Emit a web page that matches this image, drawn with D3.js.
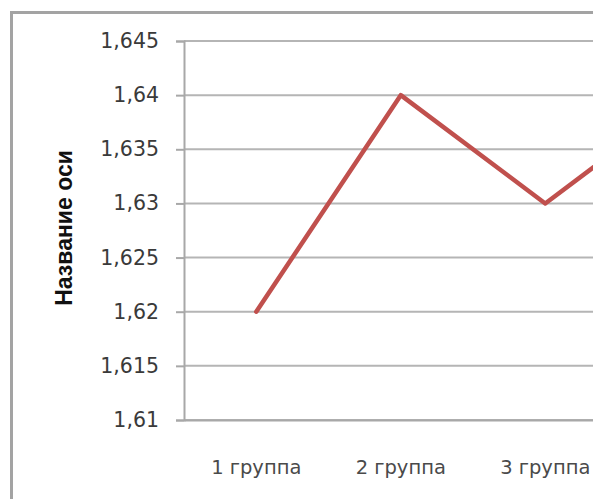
<!DOCTYPE html>
<html>
<head>
<meta charset="utf-8">
<script src="https://cdn.jsdelivr.net/npm/d3@7/dist/d3.min.js"></script>
<style>
  html, body { margin: 0; padding: 0; background: #ffffff; }
  svg { display: block; }
</style>
</head>
<body>
<script>
// Chart data
const categories = ["1 группа", "2 группа", "3 группа", "4 группа"];
const values = [1.62, 1.64, 1.63, 1.64];
const yTicks = [1.61, 1.615, 1.62, 1.625, 1.63, 1.635, 1.64, 1.645];
const yTickLabels = ["1,61", "1,615", "1,62", "1,625", "1,63", "1,635", "1,64", "1,645"];
const axisTitle = "Название оси";

const W = 593, H = 499;
const plot = { left: 184, top: 41, bottom: 420, right: 762 };

const svg = d3.select("body").append("svg")
  .attr("width", W).attr("height", H);

// Outer chart frame (extends past the visible window on the right and bottom)
svg.append("rect")
  .attr("x", 11.5).attr("y", 12.5)
  .attr("width", 800).attr("height", 700)
  .attr("fill", "#fff")
  .attr("stroke", "#a3a3a3")
  .attr("stroke-width", 3);

const x = d3.scaleBand().domain(categories).range([plot.left, plot.right]);
const y = d3.scaleLinear().domain([1.61, 1.645]).range([plot.bottom, plot.top]);

// Horizontal gridlines
svg.append("g")
  .selectAll("line")
  .data(yTicks)
  .join("line")
  .attr("x1", plot.left).attr("x2", plot.right)
  .attr("y1", d => y(d)).attr("y2", d => y(d))
  .attr("stroke", "#b5b5b5")
  .attr("stroke-width", 2);

// Y axis with ticks and comma-decimal labels
const yAxis = d3.axisLeft(y)
  .tickValues(yTicks)
  .tickFormat((d, i) => yTickLabels[i])
  .tickSize(8)
  .tickPadding(17);

const gy = svg.append("g")
  .attr("transform", `translate(${plot.left},0)`)
  .call(yAxis);
gy.select(".domain").attr("stroke", "#a8a8a8").attr("stroke-width", 2);
gy.selectAll(".tick line").attr("stroke", "#a8a8a8").attr("stroke-width", 2);
gy.selectAll(".tick text")
  .attr("font-family", "'DejaVu Sans', sans-serif")
  .attr("font-size", 20.5)
  .attr("fill", "#3a3a3a");

// X axis: category labels, no tick marks
const xAxis = d3.axisBottom(x).tickSize(0).tickPadding(40);
const gx = svg.append("g")
  .attr("transform", `translate(0,${plot.bottom})`)
  .call(xAxis);
gx.select(".domain").attr("stroke", "#a8a8a8").attr("stroke-width", 2);
gx.selectAll(".tick text")
  .attr("font-family", "'DejaVu Sans', sans-serif")
  .attr("font-size", 19.5)
  .attr("fill", "#4a4a4a");

// Axis title
svg.append("text")
  .attr("transform", "translate(72,228) rotate(-90)")
  .attr("text-anchor", "middle")
  .attr("font-family", "'Liberation Sans', Arial, sans-serif")
  .attr("font-weight", "bold")
  .attr("font-size", 23)
  .attr("fill", "#111")
  .text(axisTitle);

// Series line
const line = d3.line()
  .x((d, i) => x(categories[i]) + x.bandwidth() / 2)
  .y(d => y(d));

svg.append("path")
  .datum(values)
  .attr("d", line)
  .attr("fill", "none")
  .attr("stroke", "#c0504d")
  .attr("stroke-width", 4.5)
  .attr("stroke-linejoin", "round")
  .attr("stroke-linecap", "round");
</script>
</body>
</html>
